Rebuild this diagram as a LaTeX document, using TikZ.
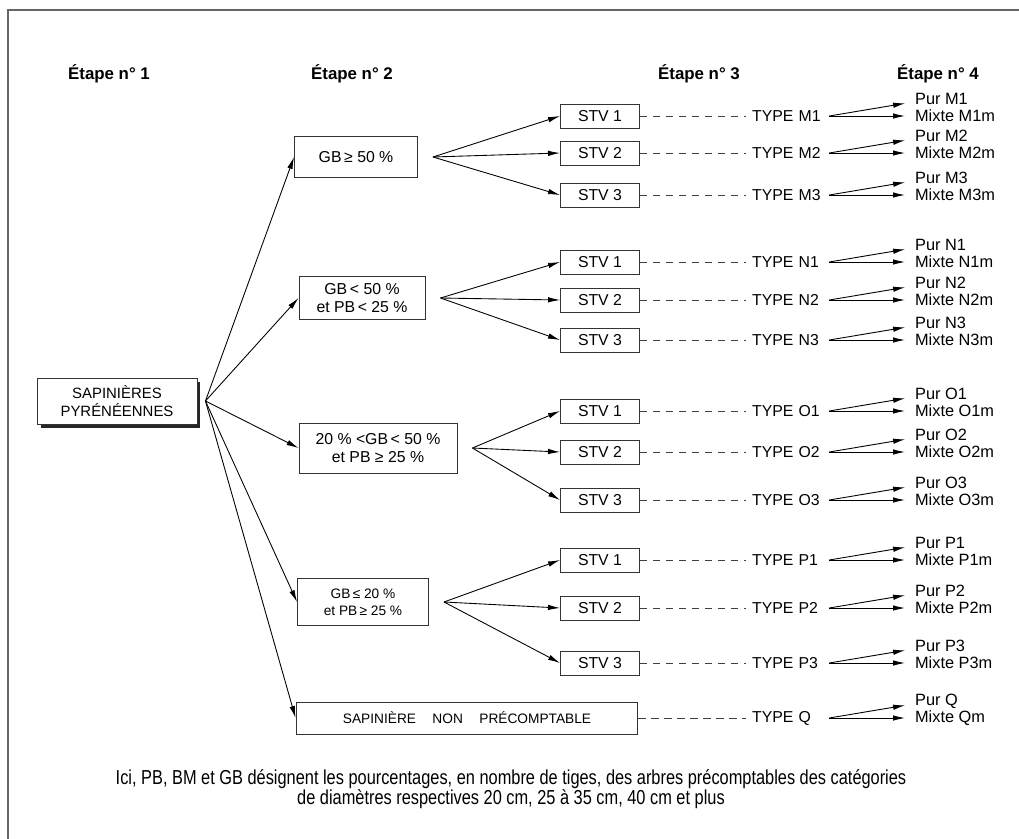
\documentclass[tikz,border=0pt]{standalone}
\usepackage{fontspec}
\setmainfont{Liberation Sans}
\newfontfamily\narrowfont[FakeStretch=0.81]{Liberation Sans}
\usetikzlibrary{calc,arrows.meta,shadows}
\tikzset{
  box/.style={draw=black!80, line width=0.55pt, fill=white, align=center, inner sep=1pt},
  stv/.style={box, minimum width=1.58cm, minimum height=0.48cm, font=\fontsize{9}{10}\selectfont},
  typ/.style={anchor=west, inner sep=1pt, text width=1.42cm, font=\fontsize{9}{10}\selectfont},
  pur/.style={anchor=west, inner sep=1pt, font=\fontsize{9.3}{10}\selectfont},
  arr/.style={-{Latex[length=2.4mm,width=1.1mm]}, line width=0.5pt},
  arrp/.style={arr, shorten >=1.6mm},
  dashline/.style={dash pattern=on 1.5mm off 1.1mm, line width=0.5pt, black!75, shorten >=0.8mm},
  etape/.style={font=\bfseries\fontsize{9.6}{11}\selectfont},
}
\def\stvrow#1#2#3#4{%
  \node[stv] (s#1) at (600,#2) {STV #3};
  \node[typ] (t#1) at (750,#2) {TYPE #4};
  \node[pur] (p#1) at (913,#2-17) {Pur #4};
  \node[pur] (x#1) at (913,#2) {Mixte #4m};
  \draw[dashline] (s#1.east) -- (t#1.west);
  \draw[arrp] ($(t#1.east)+(4,0)$) -- ($(p#1.west)+(0,3)$);
  \draw[arrp] ($(t#1.east)+(4,0)$) -- (x#1.west);
}

\begin{document}
\begin{tikzpicture}[x=0.02cm, y=-0.02cm]
			%%%%% START %%%%%
			\useasboundingbox (0,0) rectangle (1019,839);
			\draw[black!60, line width=1pt] (1019,10) -- (8,10) -- (8,839);
			
			\node[etape] (e1) at (109,74) {Étape n° 1};
			\node[etape] (e2) at (352,74) {Étape n° 2};
			\node[etape] (e3) at (699,74) {Étape n° 3};
			\node[etape] (e4) at (938,74) {Étape n° 4};
			
			\node[box, minimum width=3.2cm, minimum height=0.92cm, font=\fontsize{8.5}{10}\selectfont,
			  drop shadow={opacity=1, fill=black!85, shadow xshift=0.07cm, shadow yshift=-0.07cm}]
			  (sap) at (117,401) {SAPINIÈRES\\PYRÉNÉENNES};
			\coordinate (hub) at ($(sap.east)+(8,0)$);
			
			\node[box, minimum width=2.46cm, minimum height=0.82cm, font=\fontsize{9}{10}\selectfont]
			  (m) at (356,157) {GB\,≥ 50 \%};
			\node[box, minimum width=2.52cm, minimum height=0.86cm, font=\fontsize{9}{10}\selectfont]
			  (n) at (362,298) {GB\,< 50 \%\\et PB\,< 25 \%};
			\node[box, minimum width=3.16cm, minimum height=1cm, font=\fontsize{9}{10}\selectfont]
			  (o) at (378,448) {20 \% <GB\,< 50 \%\\et PB ≥ 25 \%};
			\node[box, minimum width=2.62cm, minimum height=0.94cm, font=\fontsize{7.8}{9.5}\selectfont]
			  (p) at (363,602) {GB\,≤ 20 \%\\et PB\,≥ 25 \%};
			\node[box, minimum width=6.84cm, minimum height=0.64cm, font=\fontsize{7.8}{9}\selectfont]
			  (q) at (467,718) {SAPINIÈRE\hspace{1.2em}NON\hspace{1.2em}PRÉCOMPTABLE};
			
			\draw[arr] (hub) -- (m.west);
			\draw[arr] (hub) -- (n.west);
			\draw[arr] (hub) -- (o.west);
			\draw[arr] (hub) -- (p.west);
			\draw[arr] (hub) -- (q.west);
			
			% groupe M
			\stvrow{m1}{116}{1}{M1}
			\stvrow{m2}{153}{2}{M2}
			\stvrow{m3}{195}{3}{M3}
			\coordinate (fm) at ($(m.east)+(15,0)$);
			\draw[arr] (fm) -- (sm1.west);
			\draw[arr] (fm) -- (sm2.west);
			\draw[arr] (fm) -- (sm3.west);
			
			% groupe N
			\stvrow{n1}{262}{1}{N1}
			\stvrow{n2}{300}{2}{N2}
			\stvrow{n3}{340}{3}{N3}
			\coordinate (fn) at ($(n.east)+(15,0)$);
			\draw[arr] (fn) -- (sn1.west);
			\draw[arr] (fn) -- (sn2.west);
			\draw[arr] (fn) -- (sn3.west);
			
			% groupe O
			\stvrow{o1}{411}{1}{O1}
			\stvrow{o2}{452}{2}{O2}
			\stvrow{o3}{500}{3}{O3}
			\coordinate (fo) at ($(o.east)+(15,0)$);
			\draw[arr] (fo) -- (so1.west);
			\draw[arr] (fo) -- (so2.west);
			\draw[arr] (fo) -- (so3.west);
			
			% groupe P
			\stvrow{p1}{560}{1}{P1}
			\stvrow{p2}{608}{2}{P2}
			\stvrow{p3}{663}{3}{P3}
			\coordinate (fp) at ($(p.east)+(15,0)$);
			\draw[arr] (fp) -- (sp1.west);
			\draw[arr] (fp) -- (sp2.west);
			\draw[arr] (fp) -- (sp3.west);
			
			% groupe Q
			\node[typ] (tq) at (750,718) {TYPE Q};
			\node[pur] (pq) at (913,701) {Pur Q};
			\node[pur] (xq) at (913,718) {Mixte Qm};
			\draw[dashline] (q.east) -- (tq.west);
			\draw[arrp] ($(tq.east)+(4,0)$) -- ($(pq.west)+(0,3)$);
			\draw[arrp] ($(tq.east)+(4,0)$) -- (xq.west);
			
			\node[align=center, font=\narrowfont\fontsize{11.5}{11}\selectfont] (note) at (511,789)
			  {Ici, PB, BM et GB désignent les pourcentages, en nombre de tiges, des arbres précomptables des catégories\\
			   de diamètres respectives 20 cm, 25 à 35 cm, 40 cm et plus};
			%%%%% END %%%%%
\end{tikzpicture}
\end{document}
